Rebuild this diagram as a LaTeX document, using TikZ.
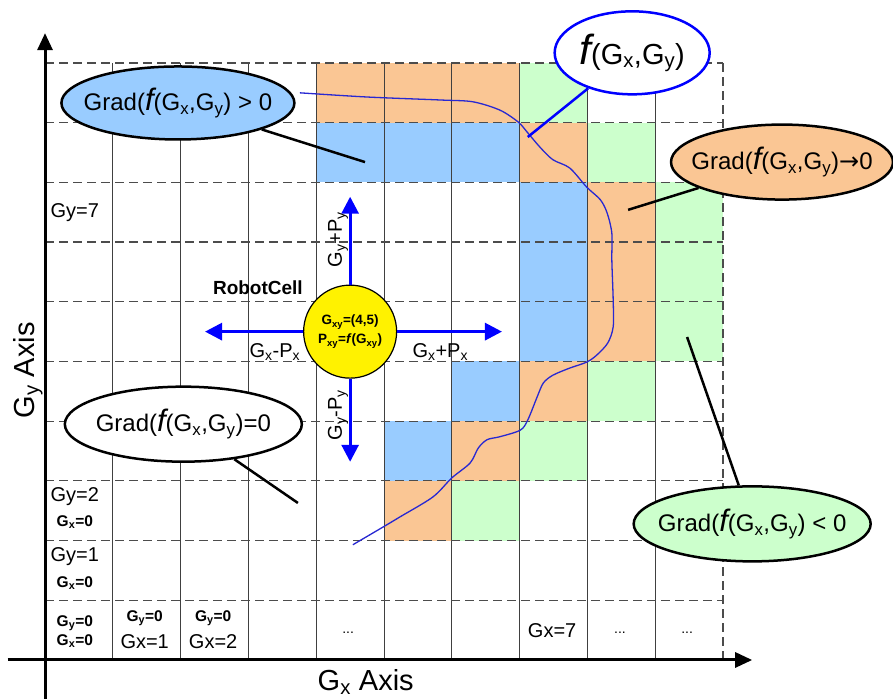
\documentclass[tikz,border=0pt]{standalone}
\usepackage{fontspec}
\setmainfont{Liberation Sans}
\newfontfamily\arrowfont{DejaVu Sans}
\usetikzlibrary{shapes.geometric,arrows.meta}
\definecolor{cellblue}{RGB}{153,204,255}
\definecolor{cellorange}{RGB}{250,198,148}
\definecolor{cellgreen}{RGB}{204,255,204}
\definecolor{curveblue}{RGB}{40,40,210}
\newcommand{\gsub}[1]{\textsubscript{#1}}
\newcommand{\fbig}{{\fontsize{31}{31}\selectfont\itshape f}}
\newcommand{\grad}[1]{\makebox[0pt]{Grad(\fbig(G\gsub{x},G\gsub{y})#1}}

\begin{document}
\begin{tikzpicture}[x=67.8pt,y=59.7pt,
		cell/.style={font=\fontsize{20}{23}\selectfont},
		small/.style={font=\fontsize{15.5}{19}\selectfont\bfseries,align=center},
		bubble/.style={draw,ellipse,line width=2.5pt,inner sep=0pt,font=\fontsize{24}{26}\selectfont},
		pointer/.style={line width=2.5pt},
		gridv/.style={line width=0.9pt,black!75},
		gridh/.style={line width=1.2pt,black!70,dash pattern=on 9pt off 5pt},
		axis/.style={line width=3pt,-{Triangle[length=17pt,width=15pt]}},
		move/.style={draw=blue,line width=3pt,-{Triangle[length=17pt,width=17pt]}}]
		\useasboundingbox (-0.664,-0.653) rectangle (12.507,11.055);
		
		\foreach \c/\r/\col in {4/9/cellorange, 5/9/cellorange, 6/9/cellorange, 7/9/cellgreen,
			4/8/cellblue, 5/8/cellblue, 6/8/cellblue, 7/8/cellorange, 8/8/cellgreen,
			7/7/cellblue, 8/7/cellorange, 9/7/cellgreen,
			7/6/cellblue, 8/6/cellorange, 9/6/cellgreen,
			7/5/cellblue, 8/5/cellorange, 9/5/cellgreen,
			6/4/cellblue, 7/4/cellorange, 8/4/cellgreen,
			5/3/cellblue, 6/3/cellorange, 7/3/cellgreen,
			5/2/cellorange, 6/2/cellgreen} {
			\fill[\col] (\c,\r) rectangle ++(1,1);
		}
		\foreach \c in {1,...,9} {
			\draw[gridv] (\c,0) -- (\c,10);
		}
		\foreach \r in {1,...,10} {
			\draw[gridh] (0,\r) -- (10,\r);
		}
		\draw[gridh] (10,0) -- (10,10);
		
		\draw[curveblue, line width=1.3pt] plot[smooth, tension=0.5] coordinates {
			(3.76,9.50) (4.75,9.43) (5.83,9.38) (6.31,9.35) (6.71,9.21) (6.98,9.01)
			(7.12,8.83) (7.30,8.59) (7.49,8.38) (7.74,8.24) (7.99,7.92) (8.19,7.71)
			(8.29,7.49) (8.36,7.15) (8.36,6.70) (8.38,6.03) (8.38,5.58) (8.30,5.31)
			(8.14,5.11) (7.99,4.99) (7.74,4.89) (7.49,4.77) (7.35,4.64) (7.26,4.41)
			(7.12,4.02) (7.01,3.85) (6.71,3.74) (6.52,3.69) (6.39,3.55) (6.27,3.30)
			(6.00,3.05) (5.72,2.73) (5.24,2.40) (4.99,2.23) (4.54,1.93)};
		
		\draw[axis] (0,-0.66) -- (0,10.5);
		\draw[axis] (-0.55,0) -- (10.43,0);
		\node[font=\fontsize{29}{30}\selectfont, rotate=90] (yaxis) at (-0.25,4.85) {G\gsub{y} Axis};
		\node[font=\fontsize{29}{30}\selectfont] (xaxis) at (4.73,-0.37) {G\gsub{x} Axis};
		
		\node[cell] (gy7) at (0.44,7.5) {Gy=7};
		\node[cell] (gy2) at (0.44,2.73) {Gy=2};
		\node[small] (gx2) at (0.44,2.31) {G\gsub{x}=0};
		\node[cell] (gy1) at (0.44,1.73) {Gy=1};
		\node[small] (gx1) at (0.44,1.29) {G\gsub{x}=0};
		\node[small] (origin) at (0.44,0.47) {G\gsub{y}=0\\G\gsub{x}=0};
		\node[small] (gy0a) at (1.47,0.70) {G\gsub{y}=0};
		\node[cell] (gxa) at (1.47,0.30) {Gx=1};
		\node[small] (gy0b) at (2.48,0.70) {G\gsub{y}=0};
		\node[cell] (gxb) at (2.48,0.30) {Gx=2};
		\node[cell] (gx7) at (7.48,0.50) {Gx=7};
		\foreach \x in {4.47,8.48,9.47} {
			\node[font=\fontsize{14}{16}\selectfont] at (\x,0.45) {...};
		}
		
		\node[circle, draw, fill=yellow, line width=1.2pt, minimum size=93pt, inner sep=0pt,
			align=center, font=\fontsize{13.5}{19}\selectfont\bfseries] (robot) at (4.5,5.5)
			{G\gsub{xy}=(4,5)\\P\gsub{xy}=\textit{f}(G\gsub{xy})};
		\coordinate (left) at (2.36,5.5);
		\coordinate (right) at (6.74,5.5);
		\coordinate (up) at (4.5,7.76);
		\coordinate (down) at (4.5,3.32);
		\draw[move] (robot) -- (left);
		\draw[move] (robot) -- (right);
		\draw[move] (robot) -- (up);
		\draw[move] (robot) -- (down);
		\node[cell] (xminus) at (3.39,5.16) {G\gsub{x}-P\gsub{x}};
		\node[cell] (xplus) at (5.83,5.16) {G\gsub{x}+P\gsub{x}};
		\node[cell, rotate=90] (yplus) at (4.32,7.04) {G\gsub{y}+P\gsub{y}};
		\node[cell, rotate=90] (yminus) at (4.32,4.10) {G\gsub{y}-P\gsub{y}};
		\node[font=\fontsize{19}{22}\selectfont\bfseries] (cellname) at (3.14,6.23) {RobotCell};
		
		\node[bubble, fill=cellblue, minimum width=233pt, minimum height=73pt] (gradpos) at (1.96,9.33)
			{\grad{ > 0}};
		\node[bubble, draw=blue, fill=white, minimum width=155pt, minimum height=83pt,
			font=\fontsize{29}{30}\selectfont] (fxy) at (8.66,10.17)
			{\makebox[0pt]{{\fontsize{42}{42}\selectfont\itshape f}(G\gsub{x},G\gsub{y})}};
		\node[bubble, fill=cellorange, minimum width=222pt, minimum height=75pt] (gradlim) at (10.87,8.34)
			{\grad{{\arrowfont →}0}};
		\node[bubble, fill=white, minimum width=237pt, minimum height=75pt] (gradzero) at (2.04,3.95)
			{\grad{=0}};
		\node[bubble, fill=cellgreen, minimum width=237pt, minimum height=75pt] (gradneg) at (10.43,2.28)
			{\grad{ < 0}};
		\coordinate (p1) at (4.72,8.34);
		\coordinate (pf) at (7.12,8.76);
		\coordinate (p2) at (8.60,7.54);
		\coordinate (p3) at (3.73,2.63);
		\coordinate (p4) at (9.47,5.41);
		\draw[pointer] (gradpos) -- (p1);
		\draw[pointer, blue] (fxy) -- (pf);
		\draw[pointer] (gradlim) -- (p2);
		\draw[pointer] (gradzero) -- (p3);
		\draw[pointer] (gradneg) -- (p4);
		
	\end{tikzpicture}
\end{document}
